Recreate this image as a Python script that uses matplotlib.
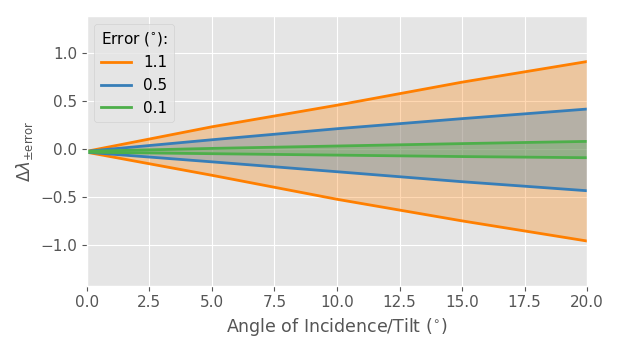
import numpy as np
import matplotlib
matplotlib.use("Agg")
import matplotlib.pyplot as plt

plt.style.use('ggplot')

# angle of incidence / tilt (deg)
angle = [0.0, 5.0, 10.0, 15.0, 20.0]

# error levels (deg) and upper / lower delta lambda
errors = ["1.1", "0.5", "0.1"]
upper_11 = [-0.02, 0.235, 0.46, 0.70, 0.915]
lower_11 = [-0.03, -0.27, -0.52, -0.745, -0.955]
upper_05 = [-0.02, 0.10, 0.215, 0.32, 0.42]
lower_05 = [-0.03, -0.13, -0.233, -0.337, -0.431]
upper_01 = [-0.02, 0.01, 0.035, 0.06, 0.083]
lower_01 = [-0.03, -0.045, -0.06, -0.075, -0.087]

colors = ["#ff7f00", "#377eb8", "#4daf4a"]

fig, ax = plt.subplots(figsize=(6.2, 3.54), dpi=100)
plt.subplots_adjust(left=0.14, right=0.947, top=0.955, bottom=0.193)

pairs = [(upper_11, lower_11), (upper_05, lower_05), (upper_01, lower_01)]
for (up, lo), c, lab in zip(pairs, colors, errors):
    ax.fill_between(angle, lo, up, color=c, alpha=0.3, lw=0)
    ax.plot(angle, up, color=c, lw=2, label=lab)
    ax.plot(angle, lo, color=c, lw=2)

ax.set_xlim(0, 20)
ax.set_ylim(-1.42, 1.39)
ax.set_xticks(np.arange(0, 20.1, 2.5))
ax.set_yticks([-1.0, -0.5, 0.0, 0.5, 1.0])
ax.tick_params(labelsize=11)
ax.set_xlabel("Angle of Incidence/Tilt ($^{\\circ}$)", fontsize=12.5)
ax.set_ylabel(r"$\Delta\lambda_{\pm\mathrm{error}}$", fontsize=12)

leg = ax.legend(title="Error ($^{\\circ}$):", loc="upper left", fontsize=11,
                title_fontsize=11, facecolor="#e5e5e5", edgecolor="#cccccc")

plt.savefig("out.png", dpi=100)
